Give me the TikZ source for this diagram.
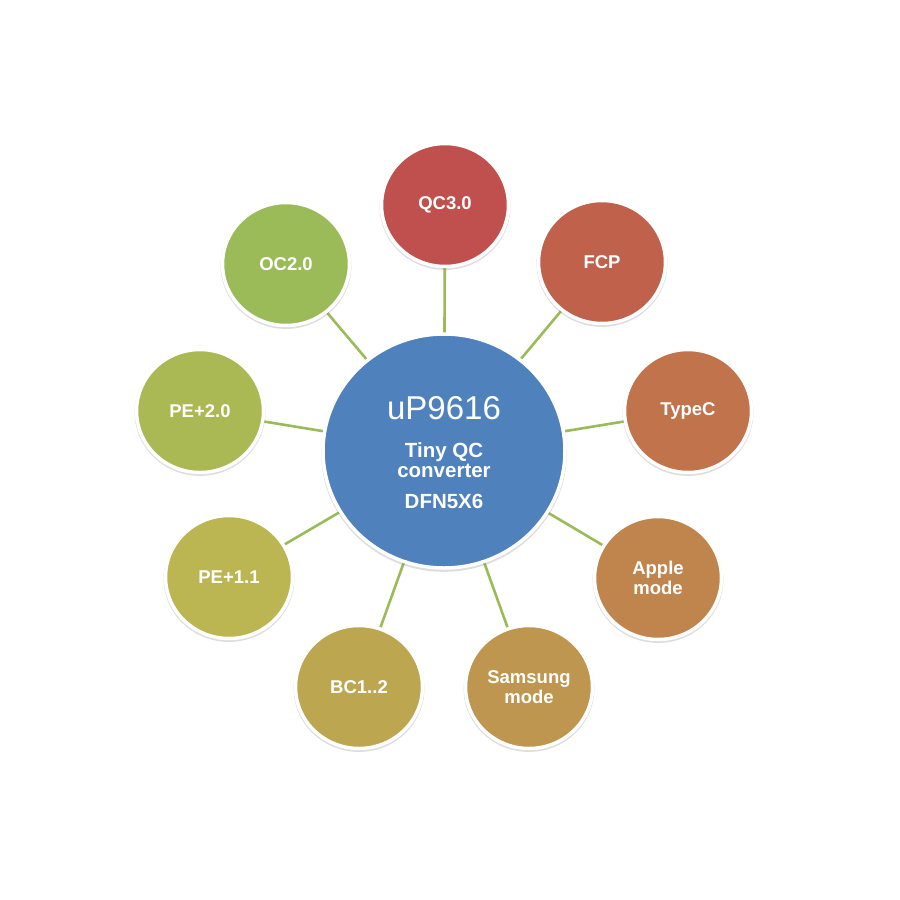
\documentclass[tikz,border=0pt]{standalone}
\usepackage{fontspec}
\setmainfont{Liberation Sans}
\usetikzlibrary{shapes.geometric,shadows}
\definecolor{cblue}{HTML}{4F81BD}
\definecolor{cqc}{HTML}{C0504D}
\definecolor{cfcp}{HTML}{C0614B}
\definecolor{ctype}{HTML}{C1734B}
\definecolor{capple}{HTML}{BF854D}
\definecolor{csam}{HTML}{BE964F}
\definecolor{cbc}{HTML}{BCA750}
\definecolor{cpeone}{HTML}{BBB552}
\definecolor{cpetwo}{HTML}{ABB954}
\definecolor{coc}{HTML}{9BBB59}
\definecolor{cline}{HTML}{9BBB59}
\tikzset{
  bubble/.style={ellipse, draw=white, line width=3.5pt, inner sep=0pt,
    minimum width=127pt, minimum height=123pt, text=white,
    font=\fontsize{18.5}{20}\selectfont\bfseries, align=center,
    drop shadow={shadow scale=1.03, shadow xshift=0pt, shadow yshift=-1.5pt, opacity=0.22, fill=black!60}},
  hub/.style={ellipse, draw=white, line width=3.5pt, inner sep=0pt,
    minimum width=242pt, minimum height=234pt, fill=cblue,
    drop shadow={shadow scale=1.015, shadow xshift=0pt, shadow yshift=-2pt, opacity=0.22, fill=black!60}},
  hubtxt/.style={text=white, inner sep=0pt, anchor=base},
  link/.style={draw=cline, line width=2.6pt}
}
\begin{document}
\begin{tikzpicture}[x=1pt,y=-1pt]
\useasboundingbox (0,0) rectangle (900,900);
\fill[white] (0,0) rectangle (900,900);
% connectors first (behind)
\coordinate (hc) at (444,451);
\coordinate (pqc) at (445,205);
\coordinate (pfcp) at (602,262);
\coordinate (ptype) at (688,411);
\coordinate (papple) at (658,578);
\coordinate (psam) at (529,687);
\coordinate (pbc) at (359,687);
\coordinate (ppeone) at (229,577);
\coordinate (ppetwo) at (200,411);
\coordinate (poc) at (286,264);
\foreach \p in {pqc,pfcp,ptype,papple,psam,pbc,ppeone,ppetwo,poc}{
  \draw[link] (hc) -- (\p);
}
\node[hub] (hub) at (hc) {};
\node[hubtxt, font=\fontsize{33}{33}\selectfont] (t1) at (444,419) {uP9616};
\node[hubtxt, font=\fontsize{20.5}{20}\selectfont\bfseries] (t2) at (444,457) {Tiny QC};
\node[hubtxt, font=\fontsize{20.5}{20}\selectfont\bfseries] (t3) at (444,477) {converter};
\node[hubtxt, font=\fontsize{20.5}{20}\selectfont\bfseries] (t4) at (444,508) {DFN5X6};
\node[bubble, fill=cqc] (qc) at (pqc) {QC3.0};
\node[bubble, fill=cfcp] (fcp) at (pfcp) {FCP};
\node[bubble, fill=ctype] (type) at (ptype) {TypeC};
\node[bubble, fill=capple] (apple) at (papple) {Apple\\mode};
\node[bubble, fill=csam] (sam) at (psam) {Samsung\\mode};
\node[bubble, fill=cbc] (bc) at (pbc) {BC1..2};
\node[bubble, fill=cpeone] (peone) at (ppeone) {PE+1.1};
\node[bubble, fill=cpetwo] (petwo) at (ppetwo) {PE+2.0};
\node[bubble, fill=coc] (oc) at (poc) {OC2.0};
\end{tikzpicture}
\end{document}
